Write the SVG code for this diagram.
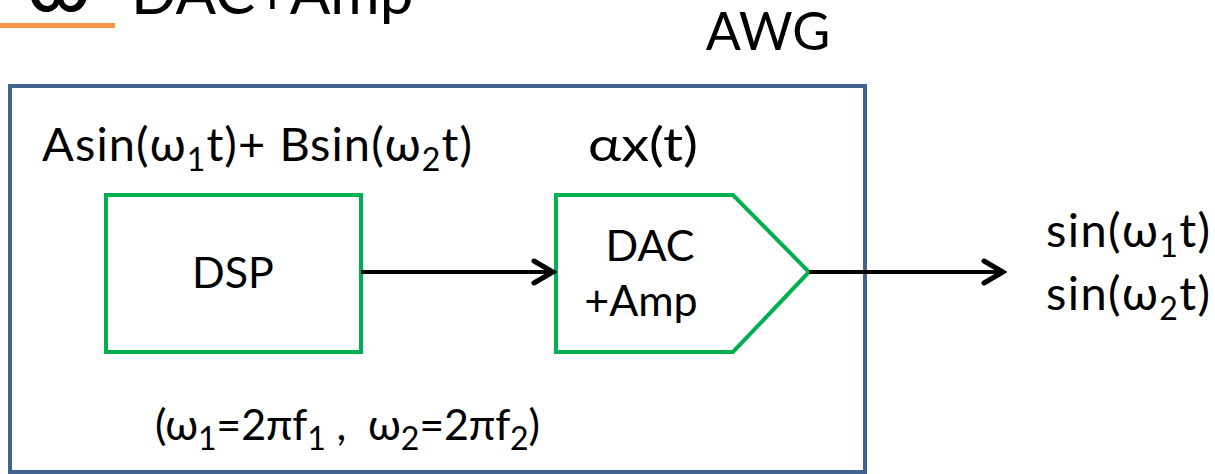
<svg xmlns="http://www.w3.org/2000/svg" width="1215" height="474" viewBox="0 0 1215 474">
  <style>
    text { font-family: Lato, "Open Sans", "Liberation Sans", sans-serif; fill: #000; }
    .lbl { font-size: 43px; }
    .expr { font-size: 47px; }
    .sub { font-size: 32px; }
    .box { fill: #fff; stroke: #00B050; stroke-width: 4; }
    .wire { stroke: #000; stroke-width: 4; fill: none; }
  </style>
  <defs>
    <marker id="chev" viewBox="0 0 26 28" refX="22" refY="14" markerWidth="26" markerHeight="28" markerUnits="userSpaceOnUse" orient="auto">
      <path d="M3,3 L22,14 L3,25" fill="none" stroke="#000" stroke-width="5" stroke-linecap="round" stroke-linejoin="miter"/>
    </marker>
  </defs>

  <!-- heading, clipped by the top edge -->
  <g id="heading">
    <text x="26" y="11" font-size="86px">ω</text>
    <text x="131" y="14" font-size="60px">DAC+Amp</text>
    <rect x="0" y="23" width="115" height="5" fill="#F79646"/>
  </g>

  <!-- AWG enclosure -->
  <g id="awg">
    <rect x="10" y="86" width="855" height="386" fill="none" stroke="#41638F" stroke-width="4"/>
    <text x="768" y="50" font-size="52px" text-anchor="middle">AWG</text>
  </g>

  <!-- signal expressions -->
  <g id="expr-dsp">
    <text class="expr" x="42" y="161" textLength="430" lengthAdjust="spacing">Asin(ω<tspan class="sub" dy="10">1</tspan><tspan dy="-10">t)+ Bsin(ω</tspan><tspan class="sub" dy="10">2</tspan><tspan dy="-10">t)</tspan></text>
  </g>
  <g id="expr-amp">
    <text class="expr" x="588" y="161" textLength="110" lengthAdjust="spacingAndGlyphs">αx(t)</text>
  </g>

  <!-- DSP block -->
  <g id="dsp">
    <rect class="box" x="106" y="195" width="255" height="157"/>
    <text class="lbl" x="233" y="288" text-anchor="middle">DSP</text>
  </g>

  <!-- DAC + amplifier block -->
  <g id="dac">
    <path class="box" d="M556,195 L733,195 L809,272 L733,352 L556,352 Z"/>
    <text class="lbl" x="650" y="261" text-anchor="middle">DAC</text>
    <text class="lbl" x="641" y="316" text-anchor="middle">+Amp</text>
  </g>

  <!-- output tones -->
  <g id="outputs">
    <text class="expr" x="1046" y="247" textLength="164" lengthAdjust="spacing">sin(ω<tspan class="sub" dy="10">1</tspan><tspan dy="-10">t)</tspan></text>
    <text class="expr" x="1046" y="310" textLength="164" lengthAdjust="spacing">sin(ω<tspan class="sub" dy="10">2</tspan><tspan dy="-10">t)</tspan></text>
  </g>

  <!-- frequency definitions -->
  <g id="freq-note">
    <text class="lbl" x="155" y="440" xml:space="preserve" textLength="385" lengthAdjust="spacing">(ω<tspan class="sub" dy="10">1</tspan><tspan dy="-10">=2πf</tspan><tspan class="sub" dy="10">1</tspan><tspan dy="-10"> ,  ω</tspan><tspan class="sub" dy="10">2</tspan><tspan dy="-10">=2πf</tspan><tspan class="sub" dy="10">2</tspan><tspan dy="-10">)</tspan></text>
  </g>

  <!-- connectors -->
  <g id="connectors">
    <line class="wire" x1="361" y1="272" x2="553" y2="272" marker-end="url(#chev)"/>
    <line class="wire" x1="809" y1="272" x2="1003" y2="272" marker-end="url(#chev)"/>
  </g>
</svg>
